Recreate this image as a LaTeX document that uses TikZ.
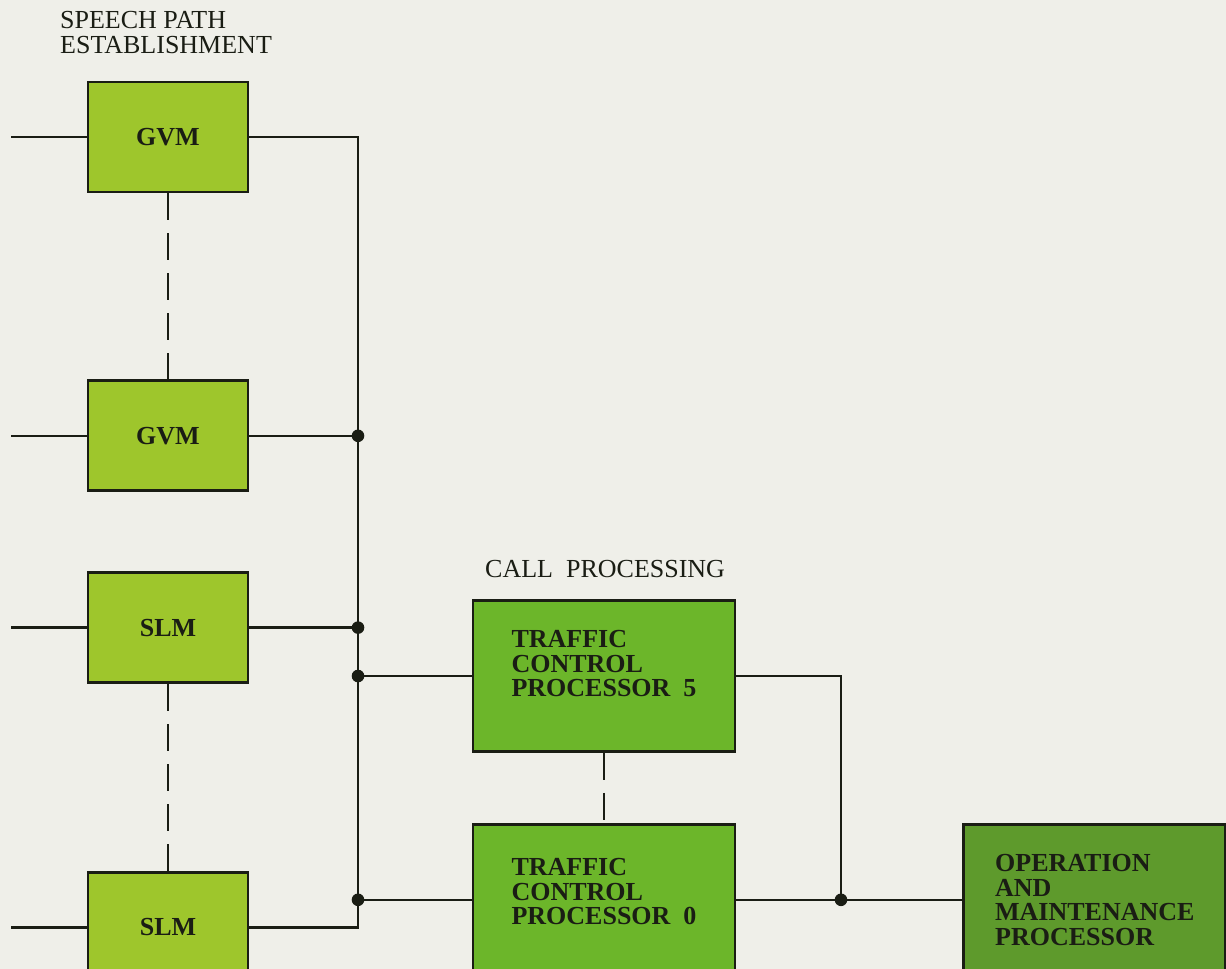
\documentclass[tikz,border=0pt]{standalone}
\usepackage{fontspec}
\setmainfont{Liberation Serif}
\usepackage{xcolor}
\usetikzlibrary{positioning}

\definecolor{paper}{HTML}{EFEFE9}
\definecolor{ink}{HTML}{1A1D14}
\definecolor{modgreen}{HTML}{9EC62C}
\definecolor{tcpgreen}{HTML}{6CB62A}
\definecolor{ompgreen}{HTML}{5E9A2C}

\begin{document}
\begin{tikzpicture}[
  x=1pt, y=-1pt,
  node distance=70pt and 226pt,
  every node/.style={text=ink},
  box/.style={draw=ink, line width=2.8pt, inner sep=0pt},
  modbox/.style={box, fill=modgreen, minimum width=160pt, minimum height=110pt,
    font=\fontsize{26}{26}\selectfont\bfseries},
  procbox/.style={box, minimum width=262pt, minimum height=151pt},
  boxtext/.style={align=left, inner sep=0pt, font=\fontsize{26}{24.5}\selectfont\bfseries},
  title/.style={align=left, inner sep=0pt, anchor=base west, font=\fontsize{26}{25}\selectfont},
  wire/.style={draw=ink, line width=2.3pt},
  dashline/.style={wire, dash pattern=on 27pt off 13pt},
]
\fill[paper] (0,0) rectangle (1226,969);
\useasboundingbox (0,0) rectangle (1226,969);

% speech path modules
\node[modbox] (gvmA) at (168,137) {GVM};
\node[modbox, below=186pt of gvmA] (gvmB) {GVM};
\node[modbox, below=79pt of gvmB] (slmA) {SLM};
\node[modbox, below=187pt of slmA] (slmB) {SLM};

% call processing
\node[procbox, fill=tcpgreen] (tcpA) at (604,676) {};
\node[procbox, fill=tcpgreen, below=of tcpA] (tcpB) {};
\node[procbox, fill=ompgreen, right=of tcpB, boxtext] (omp)
  {OPERATION\\AND\\MAINTENANCE\\PROCESSOR};
\node[boxtext] (tcpAtext) at ([yshift=12pt]tcpA.center) {TRAFFIC\\CONTROL\\PROCESSOR\ \ 5};
\node[boxtext] (tcpBtext) at ([yshift=8pt]tcpB.center) {TRAFFIC\\CONTROL\\PROCESSOR\ \ 0};

\node[title] (spTitle) at (60,53) {SPEECH PATH\\ESTABLISHMENT};
\node[title] (cpTitle) at (485,577) {CALL\ \ PROCESSING};

% bus and junctions
\coordinate (edgeL) at (11,0);
\coordinate (busTop) at (358,137);
\coordinate (busBot) at (slmB.east -| busTop);
\coordinate (jGb) at (gvmB.east -| busTop);
\coordinate (jSa) at (slmA.east -| busTop);
\coordinate (jTa) at (tcpA.west -| busTop);
\coordinate (jTb) at (tcpB.west -| busTop);
\coordinate (jOm) at (tcpB.east -| 841,0);

\foreach \b in {gvmA,gvmB,slmA,slmB}
  \draw[wire] (\b.west) -- (\b.west -| edgeL);

\draw[wire] (gvmA.east) -- (busTop) -- (busBot) -- (slmB.east);
\draw[wire] (gvmB.east) -- (jGb);
\draw[wire] (slmA.east) -- (jSa);
\draw[wire] (jTa) -- (tcpA.west);
\draw[wire] (jTb) -- (tcpB.west);

\draw[wire] (tcpA.east) -| (jOm);
\draw[wire] (tcpB.east) -- (omp.west);

\draw[dashline] (gvmA.south) -- (gvmB.north);
\draw[dashline] (slmA.south) -- (slmB.north);
\draw[dashline] (tcpA.south) -- (tcpB.north);

\foreach \j in {jGb,jSa,jTa,jTb,jOm}
  \fill[ink] (\j) circle (6.3pt);
\end{tikzpicture}
\end{document}
